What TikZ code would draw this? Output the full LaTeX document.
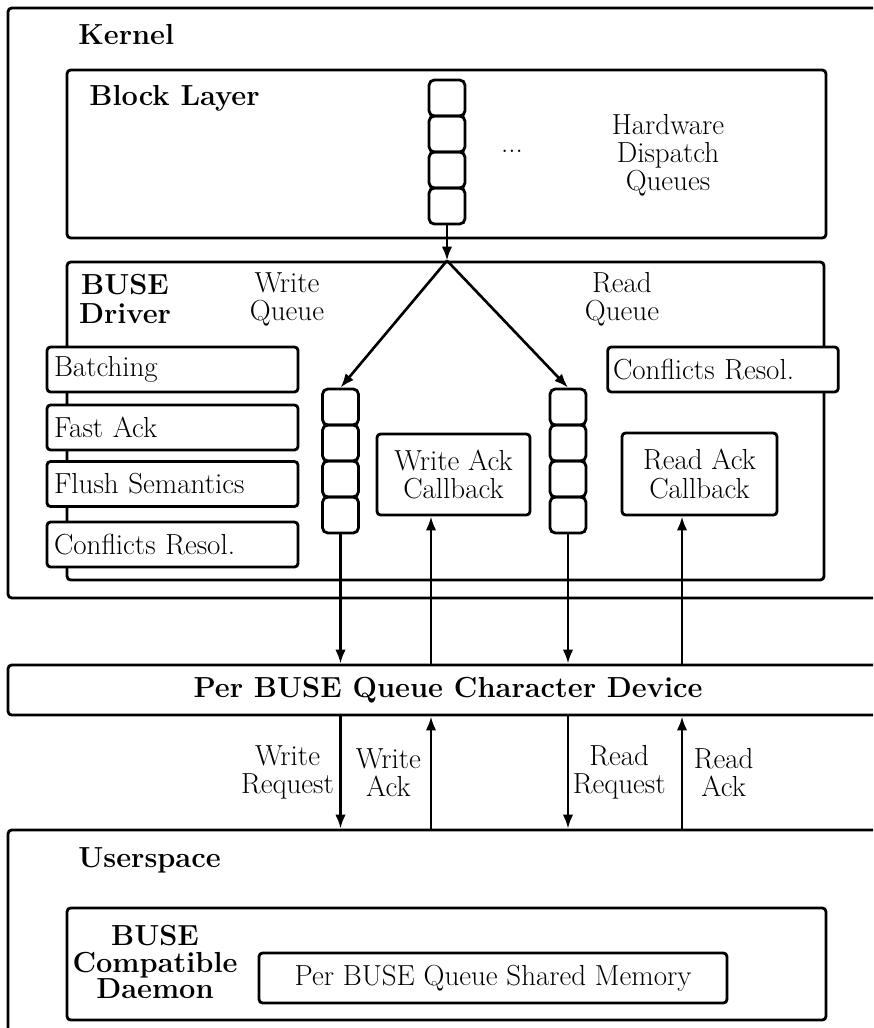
\documentclass[tikz,border=0pt]{standalone}
\usetikzlibrary{positioning,arrows.meta,calc}

\begin{document}
\begin{tikzpicture}[
  x=0.02cm, y=-0.02cm,
  font=\fontsize{16.5}{16}\selectfont,
  box/.style={draw, line width=1.6pt, rounded corners=2pt, inner sep=0pt, fill=white},
  featbox/.style={draw, line width=1.6pt, rounded corners=2pt, inner xsep=4pt, fill=white,
                  text width=4.74cm, minimum height=0.9cm, align=left},
  cell/.style={draw, line width=1.6pt, rounded corners=3pt,
               minimum width=0.72cm, minimum height=0.72cm},
  title/.style={font=\fontsize{16.5}{16}\selectfont\bfseries, inner sep=0pt, align=center},
  lbl/.style={align=center, inner sep=0pt},
  arrow/.style={-{Latex[length=8pt,width=6pt]}, line width=1.5pt}
]
\useasboundingbox (0,0) rectangle (873,1028);
\clip (0,0) rectangle (873,1028);

% kernel side
\node[box, minimum width=17.6cm, minimum height=11.8cm] (kernel) at (448,303) {};
\node[title, anchor=west] at (78,35) {Kernel};

\node[box, minimum width=15.18cm, minimum height=3.36cm] (block) at (446.5,154) {};
\node[title, anchor=west] at (89,98) {Block Layer};
\foreach \i in {1,...,4}
  \node[cell] (hq\i) at (447,{62+36*\i}) {};
\node[inner sep=0pt, anchor=base] (dots) at (512,152) {...};
\node[lbl] (hwq) at (668,155) {Hardware\\Dispatch\\Queues};

\node[box, minimum width=15.14cm, minimum height=6.36cm] (driver) at (445.5,421) {};
\node[title] at (125,299) {BUSE\\Driver};
\node[lbl] (wqlabel) at (287,299) {Write\\Queue};
\node[lbl] (rqlabel) at (622,299) {Read\\Queue};

\node[featbox] (batch) at (172.5,369.5) {Batching};
\node[featbox] (fast) at (172.5,427.5) {Fast Ack};
\node[featbox] (flush) at (172.5,484) {Flush Semantics};
\node[featbox] (confl) at (172.5,544.5) {Conflicts Resol.};
\node[featbox, text width=4.4cm, inner xsep=3pt] (confr) at (723,369.5) {Conflicts Resol.};

\foreach \i in {1,...,4} {
  \node[cell] (wq\i) at (340.5,{371+36*\i}) {};
  \node[cell] (rq\i) at (568,{371+36*\i}) {};
}
\node[box, minimum width=3.06cm, minimum height=1.62cm, align=center] (wack) at (453.5,474.5) {Write Ack\\Callback};
\node[box, minimum width=3.1cm, minimum height=1.64cm, align=center] (rack) at (699.5,474) {Read Ack\\Callback};

% character device and userspace
\node[box, minimum width=17.6cm, minimum height=1.0cm] (chardev) at (448,690) {\bfseries Per BUSE Queue Character Device};

\node[box, minimum width=17.6cm, minimum height=4.2cm] (user) at (448,935) {};
\node[title, anchor=west] at (78,860) {Userspace};
\node[box, minimum width=15.18cm, minimum height=2.24cm] (daemon) at (446.5,964) {};
\node[title, font=\fontsize{16.5}{15}\selectfont\bfseries] at (155,962) {BUSE\\Compatible\\Daemon};
\node[box, minimum width=9.36cm, minimum height=1.0cm] (shm) at (493,978) {Per BUSE Queue Shared Memory};

% ack lanes
\coordinate (walane) at (431,0);
\coordinate (ralane) at (682,0);

\draw[arrow] (hq4.south) -- (hq4.south |- driver.north) coordinate (split);
\draw[arrow] (split) -- (wq1.north);
\draw[arrow] (split) -- (rq1.north);
\draw[arrow] (wq4.south) -- (wq4.south |- chardev.north);
\draw[arrow] (rq4.south) -- (rq4.south |- chardev.north);
\draw[arrow] (walane |- chardev.north) -- (walane |- wack.south);
\draw[arrow] (ralane |- chardev.north) -- (ralane |- rack.south);

\draw[arrow] (wq4.south |- chardev.south) -- node[lbl, left=3pt] {Write\\Request} (wq4.south |- user.north);
\draw[arrow] (walane |- user.north) -- node[lbl, left=5pt] {Write\\Ack} (walane |- chardev.south);
\draw[arrow] (rq4.south |- chardev.south) -- node[lbl, right=2pt] {Read\\Request} (rq4.south |- user.north);
\draw[arrow] (ralane |- user.north) -- node[lbl, right=6pt] {Read\\Ack} (ralane |- chardev.south);
\end{tikzpicture}
\end{document}
